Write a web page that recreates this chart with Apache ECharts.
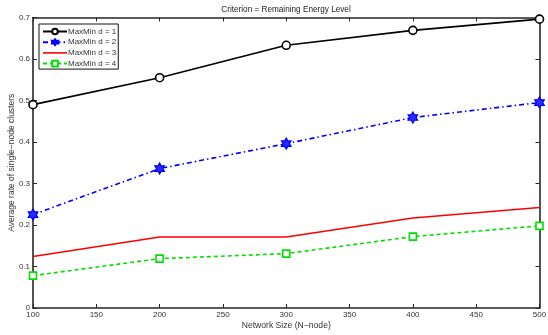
<!DOCTYPE html>
<html>
<head>
<meta charset="utf-8">
<script src="https://cdn.jsdelivr.net/npm/echarts@6/dist/echarts.min.js"></script>
<style>
  html, body { margin: 0; padding: 0; background: #fff; }
  #chart { width: 548px; height: 335px; }
</style>
</head>
<body>
<div id="chart"></div>
<script>
// Network sizes (x values)
const networkSizes = [100, 200, 300, 400, 500];

// Average rate of single-node clusters for each MaxMin depth
const maxMinD1 = [0.490, 0.555, 0.633, 0.669, 0.696];
const maxMinD2 = [0.225, 0.336, 0.396, 0.459, 0.495];
const maxMinD3 = [0.124, 0.171, 0.171, 0.217, 0.242];
const maxMinD4 = [0.078, 0.119, 0.131, 0.172, 0.198];

const seriesNames = ['MaxMin d = 1', 'MaxMin d = 2', 'MaxMin d = 3', 'MaxMin d = 4'];

const xTicks = { min: 100, max: 500, step: 50 };
const yTicks = { min: 0, max: 0.7, step: 0.1 };

const FONT = 'Liberation Sans, Arial, Helvetica, sans-serif';
const AXIS_COLOR = '#262626';

const hexagram = 'path://M50,0 L64.4,25 L93.3,25 L78.9,50 L93.3,75 L64.4,75 L50,100 L35.6,75 L6.7,75 L21.1,50 L6.7,25 L35.6,25 Z';
// plain stroke used as the legend key of the marker-less series
const plainLine = 'path://M0,0 L240,0 L240,16 L0,16 Z';

function pairs(ys) {
  return networkSizes.map((x, i) => [x, ys[i]]);
}

const chart = echarts.init(document.getElementById('chart'), null, { renderer: 'canvas' });

const tickStyle = { show: true, inside: true, length: 4, lineStyle: { color: AXIS_COLOR, width: 1 } };
const lineAxis = { show: true, onZero: false, lineStyle: { color: AXIS_COLOR, width: 1.6 } };
const labelStyle = { color: '#333', fontFamily: FONT, fontSize: 8 };

const option = {
  animation: false,
  backgroundColor: '#fff',
  title: {
    text: 'Criterion = Remaining Energy Level',
    left: 286,
    textAlign: 'center',
    top: 5.5,
    padding: 0,
    textStyle: { fontFamily: FONT, fontSize: 8.2, fontWeight: 'normal', color: '#222' }
  },
  grid: { left: 33, right: 8.5, top: 17.5, bottom: 27, containLabel: false, outerBoundsMode: 'none' },
  legend: {
    orient: 'vertical',
    left: 39,
    top: 24,
    padding: [3.5, 2, 1.5, 3],
    itemGap: 2.7,
    itemWidth: 24,
    itemHeight: 7,
    symbolKeepAspect: true,
    backgroundColor: '#fff',
    borderColor: '#111',
    borderWidth: 1,
    borderRadius: 0,
    textStyle: { fontFamily: FONT, fontSize: 8, lineHeight: 8, color: '#333', padding: [0, 0, 0, -4] },
    data: [
      seriesNames[0],
      seriesNames[1],
      { name: seriesNames[2], icon: plainLine, itemStyle: { color: '#ff0000', borderWidth: 0 } },
      seriesNames[3]
    ]
  },
  xAxis: [
    {
      type: 'value',
      min: xTicks.min, max: xTicks.max, interval: xTicks.step,
      name: 'Network Size (N\u2212node)',
      nameLocation: 'middle',
      nameGap: 13.5,
      nameMoveOverlap: false,
      nameTextStyle: { fontFamily: FONT, fontSize: 8.6, color: '#333' },
      axisLine: lineAxis,
      axisTick: tickStyle,
      axisLabel: Object.assign({ margin: 3 }, labelStyle),
      splitLine: { show: false }
    },
    {
      type: 'value', position: 'top',
      min: xTicks.min, max: xTicks.max, interval: xTicks.step,
      axisLine: lineAxis, axisTick: tickStyle,
      axisLabel: { show: false }, splitLine: { show: false }
    }
  ],
  yAxis: [
    {
      type: 'value',
      min: yTicks.min, max: yTicks.max, interval: yTicks.step,
      name: 'Average rate of single\u2212node clusters',
      nameLocation: 'middle',
      nameGap: 16.5,
      nameMoveOverlap: false,
      nameTextStyle: { fontFamily: FONT, fontSize: 8.5, color: '#333' },
      axisLine: lineAxis,
      axisTick: tickStyle,
      axisLabel: Object.assign({ margin: 3, formatter: v => String(Math.round(v * 10) / 10) }, labelStyle),
      splitLine: { show: false }
    },
    {
      type: 'value', position: 'right',
      min: yTicks.min, max: yTicks.max, interval: yTicks.step,
      axisLine: lineAxis, axisTick: tickStyle,
      axisLabel: { show: false }, splitLine: { show: false }
    }
  ],
  series: [
    {
      name: seriesNames[0], type: 'line', data: pairs(maxMinD1), clip: false,
      symbol: 'circle', symbolSize: 8, showAllSymbol: true,
      lineStyle: { color: '#000', width: 1.6 },
      itemStyle: { color: '#fff', borderColor: '#000', borderWidth: 1.6 }
    },
    {
      name: seriesNames[1], type: 'line', data: pairs(maxMinD2), clip: false,
      symbol: hexagram, symbolSize: 11, symbolKeepAspect: true,
      lineStyle: { color: '#0000ff', width: 1.6, type: [5, 3, 1.5, 3] },
      itemStyle: { color: '#2a2aff', borderColor: '#0000ff', borderWidth: 1.2 }
    },
    {
      name: seriesNames[2], type: 'line', data: pairs(maxMinD3), clip: false,
      symbol: 'none', showSymbol: false,
      lineStyle: { color: '#ff0000', width: 1.6 },
      itemStyle: { color: '#ff0000' }
    },
    {
      name: seriesNames[3], type: 'line', data: pairs(maxMinD4), clip: false,
      symbol: 'rect', symbolSize: 7,
      lineStyle: { color: '#00e000', width: 1.6, type: [4, 3] },
      itemStyle: { color: '#fff', borderColor: '#00e000', borderWidth: 1.6 }
    }
  ]
};

chart.setOption(option);
</script>
</body>
</html>
